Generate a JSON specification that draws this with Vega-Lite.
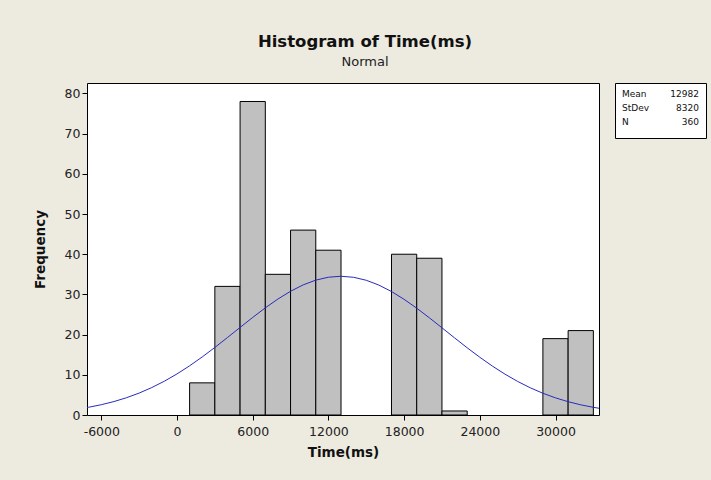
{
  "$schema": "https://vega.github.io/schema/vega-lite/v6.json",
  "autosize": "none",
  "padding": {"left": 87, "top": 83, "right": 624, "bottom": 397},
  "background": "#EDEAE0",
  "spacing": 16,
  "bounds": "flush",
  "config": {
    "font": "DejaVu Sans",
    "view": {"stroke": "#000", "strokeWidth": 1, "fill": "#FFFFFF"},
    "axis": {
      "grid": false,
      "domain": false,
      "tickColor": "#000",
      "tickSize": 5,
      "labelFontSize": 12.5,
      "labelColor": "#222",
      "labelPadding": 2,
      "titleFontSize": 13.5,
      "titleFontWeight": "bold",
      "titleColor": "#111"
    }
  },
  "datasets": {
    "bins": [
      {"bin_start": 1000, "bin_end": 3000, "count": 8},
      {"bin_start": 3000, "bin_end": 5000, "count": 32},
      {"bin_start": 5000, "bin_end": 7000, "count": 78},
      {"bin_start": 7000, "bin_end": 9000, "count": 35},
      {"bin_start": 9000, "bin_end": 11000, "count": 46},
      {"bin_start": 11000, "bin_end": 13000, "count": 41},
      {"bin_start": 17000, "bin_end": 19000, "count": 40},
      {"bin_start": 19000, "bin_end": 21000, "count": 39},
      {"bin_start": 21000, "bin_end": 23000, "count": 1},
      {"bin_start": 29000, "bin_end": 31000, "count": 19},
      {"bin_start": 31000, "bin_end": 33000, "count": 21}
    ],
    "curve": [
      {"time": -7133, "freq": 1.857},
      {"time": -7000, "freq": 1.930},
      {"time": -6000, "freq": 2.558},
      {"time": -5000, "freq": 3.340},
      {"time": -4000, "freq": 4.300},
      {"time": -3000, "freq": 5.455},
      {"time": -2000, "freq": 6.824},
      {"time": -1000, "freq": 8.411},
      {"time": 0, "freq": 10.219},
      {"time": 1000, "freq": 12.239},
      {"time": 2000, "freq": 14.446},
      {"time": 3000, "freq": 16.808},
      {"time": 4000, "freq": 19.275},
      {"time": 5000, "freq": 21.787},
      {"time": 6000, "freq": 24.274},
      {"time": 7000, "freq": 26.657},
      {"time": 8000, "freq": 28.854},
      {"time": 9000, "freq": 30.785},
      {"time": 10000, "freq": 32.372},
      {"time": 11000, "freq": 33.554},
      {"time": 12000, "freq": 34.280},
      {"time": 12982, "freq": 34.520},
      {"time": 14000, "freq": 34.262},
      {"time": 15000, "freq": 33.519},
      {"time": 16000, "freq": 32.322},
      {"time": 17000, "freq": 30.721},
      {"time": 18000, "freq": 28.779},
      {"time": 19000, "freq": 26.574},
      {"time": 20000, "freq": 24.186},
      {"time": 21000, "freq": 21.697},
      {"time": 22000, "freq": 19.185},
      {"time": 23000, "freq": 16.720},
      {"time": 24000, "freq": 14.365},
      {"time": 25000, "freq": 12.161},
      {"time": 26000, "freq": 10.150},
      {"time": 27000, "freq": 8.349},
      {"time": 28000, "freq": 6.770},
      {"time": 29000, "freq": 5.411},
      {"time": 30000, "freq": 4.262},
      {"time": 31000, "freq": 3.309},
      {"time": 32000, "freq": 2.533},
      {"time": 33000, "freq": 1.910},
      {"time": 33447, "freq": 1.676}
    ],
    "stats": [
      {"stat": "Mean", "value": "12982"},
      {"stat": "StDev", "value": "8320"},
      {"stat": "N", "value": "360"}
    ]
  },
  "hconcat": [
    {
      "width": 512,
      "height": 332,
      "title": {
        "text": "Histogram of Time(ms)",
        "subtitle": "Normal",
        "anchor": "middle",
        "frame": "group",
        "dx": 22,
        "offset": 14,
        "fontSize": 16.5,
        "fontWeight": "bold",
        "color": "#111",
        "subtitleFontSize": 13,
        "subtitleFontWeight": "normal",
        "subtitleColor": "#222",
        "subtitlePadding": 6
      },
      "layer": [
        {
          "data": {"name": "bins"},
          "mark": {"type": "bar", "fill": "#C0C0C0", "stroke": "#000", "strokeWidth": 1},
          "encoding": {
            "x": {
              "field": "bin_start",
              "type": "quantitative",
              "scale": {"domain": [-7133, 33447], "nice": false, "zero": false},
              "axis": {
                "title": "Time(ms)",
                "values": [-6000, 0, 6000, 12000, 18000, 24000, 30000],
                "labelExpr": "replace(format(datum.value, 'd'), '\u2212', '-')",
                "labelPadding": 5,
                "titlePadding": 8
              }
            },
            "x2": {"field": "bin_end"},
            "y": {
              "field": "count",
              "type": "quantitative",
              "scale": {"domain": [0, 82.6], "nice": false},
              "axis": {
                "title": "Frequency",
                "values": [0, 10, 20, 30, 40, 50, 60, 70, 80],
                "titlePadding": 17
              }
            },
            "y2": {"datum": 0}
          }
        },
        {
          "data": {"name": "curve"},
          "mark": {"type": "line", "color": "#2A2ABE", "strokeWidth": 1, "clip": true},
          "encoding": {
            "x": {"field": "time", "type": "quantitative"},
            "y": {"field": "freq", "type": "quantitative"}
          }
        }
      ]
    },
    {
      "width": 91,
      "height": 55,
      "data": {"name": "stats"},
      "encoding": {
        "y": {
          "field": "stat",
          "type": "nominal",
          "sort": ["Mean", "StDev", "N"],
          "scale": {"type": "point", "padding": 0.96, "align": 0.41},
          "axis": null
        }
      },
      "layer": [
        {
          "mark": {"type": "text", "align": "left", "baseline": "middle", "dx": 7, "fontSize": 9, "color": "#111"},
          "encoding": {
            "x": {"datum": "label", "type": "nominal", "scale": {"type": "point", "domain": ["label", "value"], "padding": 0}, "axis": null},
            "text": {"field": "stat"}
          }
        },
        {
          "mark": {"type": "text", "align": "right", "baseline": "middle", "dx": -7, "fontSize": 9, "color": "#111"},
          "encoding": {
            "x": {"datum": "value", "type": "nominal"},
            "text": {"field": "value"}
          }
        }
      ]
    }
  ]
}
